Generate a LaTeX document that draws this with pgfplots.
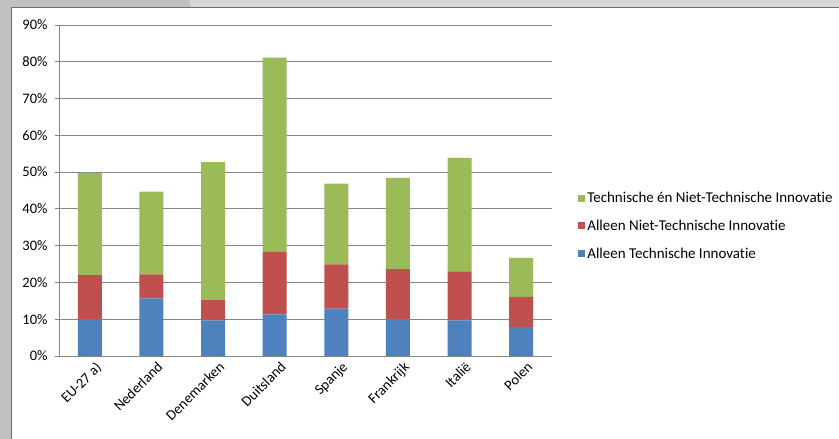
\documentclass[border=0pt]{standalone}
\usepackage{fontspec}
\setmainfont{Carlito}[Ligatures=NoCommon]
\usepackage{pgfplots}
\pgfplotsset{compat=1.18}
\definecolor{cblue}{RGB}{79,129,189}
\definecolor{cred}{RGB}{192,80,77}
\definecolor{cgreen}{RGB}{155,187,89}
\definecolor{cgrid}{RGB}{134,134,134}
\definecolor{frameL}{RGB}{192,192,192}
\definecolor{frameT}{RGB}{215,215,215}
\definecolor{frameD}{RGB}{110,110,110}
\begin{document}
\begin{tikzpicture}[x=1pt,y=1pt]
\fill[frameL] (0,0) rectangle (839,439);
\fill[frameT] (190,431) rectangle (839,439);
\fill[white] (11,0) rectangle (839,431);
\draw[frameD,line width=1pt] (11,0) -- (11,431) -- (839,431);
\begin{axis}[
  at={(59pt,83pt)}, anchor=south west,
  scale only axis, width=493pt, height=331pt,
  ybar stacked, bar width=0.39,
  xmin=-0.5, xmax=7.5, ymin=0, ymax=90,
  axis x line*=bottom, axis y line*=left,
  axis line style={cgrid, line width=0.8pt},
  xtick={0,...,7},
  xticklabels={EU-27 a),Nederland,Denemarken,Duitsland,Spanje,Frankrijk,Itali\"e,Polen},
  x tick style={draw=none},
  extra x ticks={-0.5,0.5,...,7.5},
  extra x tick labels={},
  extra x tick style={major tick length=5pt, tick align=outside, tick style={draw=cgrid,line width=0.8pt}, grid=none},
  xticklabel style={rotate=45, anchor=north east, font=\fontsize{14.5}{16}\selectfont, inner sep=1pt, yshift=-3pt, xshift=4pt},
  ytick={0,10,...,90},
  yticklabel={\pgfmathprintnumber{\tick}\%},
  yticklabel style={font=\fontsize{14.5}{16}\selectfont, xshift=-4pt},
  /pgf/number format/assume math mode=true,
  y tick style={draw=cgrid, line width=0.8pt},
  tick align=outside, major tick length=4pt,
  ymajorgrids, grid style={cgrid, line width=0.8pt},
  legend style={at={(rel axis cs:1.053,0.393)}, anchor=west, draw=none, fill=white,
    font=\fontsize{15}{16}\selectfont, row sep=12pt, inner sep=0pt,
    /tikz/every odd column/.style={inner xsep=1pt}},
  legend cell align=left,
  reverse legend,
  legend image code/.code={\fill[#1, draw=none] (0pt,-3.5pt) rectangle (7pt,3.5pt);},
]
\addplot[fill=cblue, draw=none] coordinates {(0,10.0) (1,15.7) (2,9.7) (3,11.3) (4,12.9) (5,10.0) (6,9.7) (7,7.9)};
\addplot[fill=cred, draw=none] coordinates {(0,12.0) (1,6.5) (2,5.6) (3,17.0) (4,12.0) (5,13.6) (6,13.3) (7,8.2)};
\addplot[fill=cgreen, draw=none] coordinates {(0,27.8) (1,22.5) (2,37.4) (3,52.8) (4,22.0) (5,24.8) (6,30.9) (7,10.6)};
\legend{Alleen Technische Innovatie,Alleen Niet-Technische Innovatie,Technische én Niet-Technische Innovatie}
\end{axis}
\pgfresetboundingbox
\useasboundingbox (0,0) rectangle (839,439);
\end{tikzpicture}
\end{document}
